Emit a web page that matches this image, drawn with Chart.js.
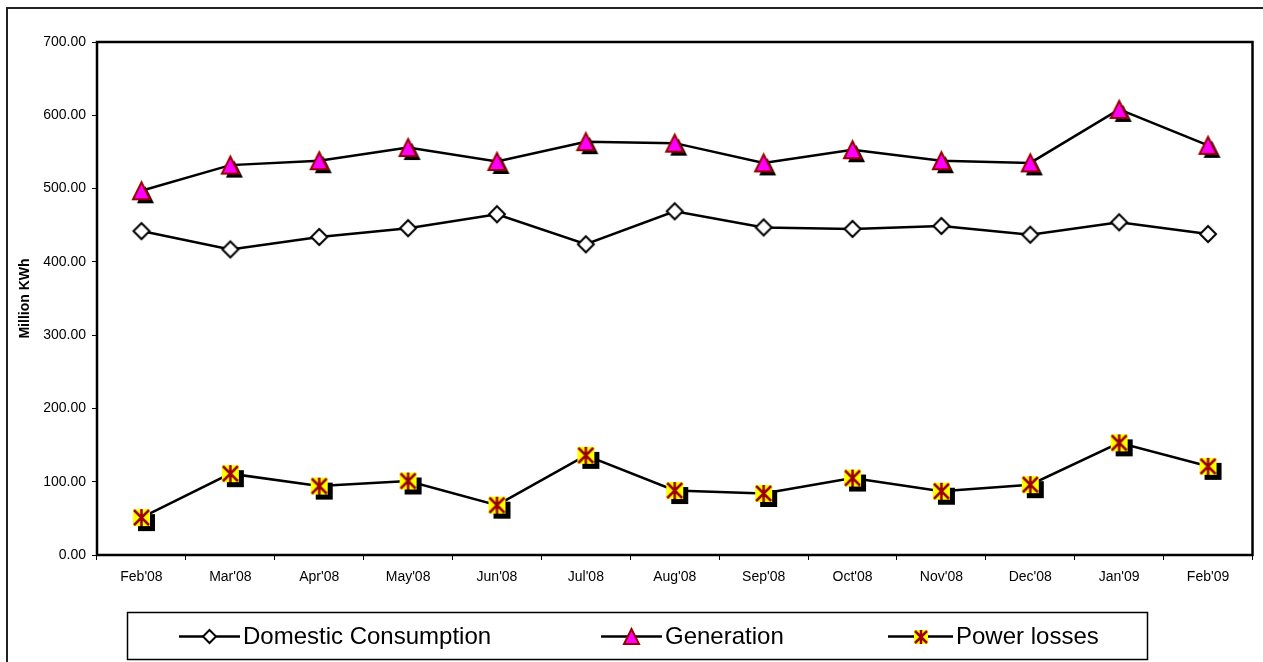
<!DOCTYPE html>
<html><head><meta charset="utf-8">
<script src="https://cdn.jsdelivr.net/npm/chart.js@4.4.1/dist/chart.umd.min.js"></script>
<style>html,body{margin:0;padding:0;background:#fff}#wrap{width:1263px;height:662px;position:relative}</style>
</head><body><div id="wrap"><canvas id="c" width="1263" height="662"></canvas></div>
<script>
const categories = ["Feb'08","Mar'08","Apr'08","May'08","Jun'08","Jul'08","Aug'08","Sep'08","Oct'08","Nov'08","Dec'08","Jan'09","Feb'09"];
const domestic = [442, 417, 434, 446, 465, 424, 469, 447, 445, 449, 437, 454, 438];
const generation = [497, 532, 538, 556, 537, 564, 562, 535, 553, 538, 535, 608, 559];
const losses = [51, 111, 94, 101, 68, 136, 88, 84, 105, 87, 96, 153, 121];
const yTicks = [0, 100, 200, 300, 400, 500, 600, 700];
const seriesNames = ["Domestic Consumption", "Generation", "Power losses"];

const FONT = "'Liberation Sans', Arial, sans-serif";

function mk(size){const c=document.createElement('canvas');c.width=size;c.height=size;return c;}
function diamond(s){
  const size=s+6, c=mk(size), g=c.getContext('2d'), m=size/2, r=s/2;
  g.beginPath();g.moveTo(m,m-r);g.lineTo(m+r,m);g.lineTo(m,m+r);g.lineTo(m-r,m);g.closePath();
  g.fillStyle='#fff';g.fill();g.lineWidth=2;g.strokeStyle='#000';g.stroke();return c;
}
function triangle(s,sh){
  const size=s+2*sh+6, c=mk(size), g=c.getContext('2d'), m=size/2, r=s/2;
  function path(dx,dy){g.beginPath();g.moveTo(m+dx,m-r+dy);g.lineTo(m+r+dx,m+r+dy);g.lineTo(m-r+dx,m+r+dy);g.closePath();}
  if(sh){path(sh,sh);g.fillStyle='#000';g.fill();}
  path(0,0);g.fillStyle='#ff00ff';g.fill();g.lineWidth=2;g.strokeStyle='#990000';g.lineJoin='miter';g.stroke();return c;
}
function star(s,sh){
  const size=s+2*sh+6, c=mk(size), g=c.getContext('2d'), m=size/2, r=s/2;
  if(sh){g.fillStyle='#000';g.fillRect(m-r+sh,m-r+sh,s,s);}
  g.fillStyle='#ffff00';g.fillRect(m-r,m-r,s,s);
  g.strokeStyle='#990000';g.lineWidth=2.5;g.beginPath();
  g.moveTo(m-r+1,m-r+1);g.lineTo(m+r-1,m+r-1);g.moveTo(m+r-1,m-r+1);g.lineTo(m-r+1,m+r-1);
  g.moveTo(m,m-r);g.lineTo(m,m+r);g.stroke();return c;
}
const mDom=diamond(16), mGen=triangle(17,4), mLoss=star(17,5);
const lDom=diamond(13), lGen=triangle(15,0), lLoss=star(14,0);

const frame={id:'frame',
  beforeDraw(ch){const g=ch.ctx;g.save();g.fillStyle='#fff';g.fillRect(0,0,ch.width,ch.height);
    g.strokeStyle='#222';g.lineWidth=2;g.beginPath();g.moveTo(7,662);g.lineTo(7,8);g.lineTo(1263,8);g.stroke();g.restore();},
  afterDraw(ch){const g=ch.ctx,a=ch.chartArea;g.save();
    g.strokeStyle='#000';g.lineWidth=2.5;g.strokeRect(a.left,a.top,a.right-a.left,a.bottom-a.top);
    // legend
    g.lineWidth=1.5;g.strokeStyle='#000';g.strokeRect(127.5,612.5,1020,47);
    const y=636.5, items=[[179,240,lDom,seriesNames[0]],[601,662,lGen,seriesNames[1]],[888,953,lLoss,seriesNames[2]]];
    g.font='24px '+FONT;g.fillStyle='#000';g.textBaseline='middle';
    for(const [x1,x2,img,t] of items){
      g.lineWidth=2.5;g.beginPath();g.moveTo(x1,y);g.lineTo(x2,y);g.stroke();
      const cx=(x1+x2)/2;g.drawImage(img,Math.round(cx-img.width/2),Math.round(y-img.height/2));
      g.fillText(t,x2+3,y+1);
    }
    g.restore();}
};

const ds=(label,data,img)=>({label,data,borderColor:'#000',borderWidth:2.5,tension:0,pointStyle:img,pointRadius:8,fill:false});

new Chart(document.getElementById('c'),{
  type:'line',
  data:{labels:categories,datasets:[ds(seriesNames[0],domestic,mDom),ds(seriesNames[1],generation,mGen),ds(seriesNames[2],losses,mLoss)]},
  options:{responsive:false,animation:false,devicePixelRatio:1,
    layout:{padding:{top:42,right:8,left:0,bottom:0}},
    plugins:{legend:{display:false},tooltip:{enabled:false}},
    scales:{
      x:{type:'category',offset:true,border:{display:false},
        grid:{offset:true,drawOnChartArea:false,drawTicks:true,tickLength:5,color:'#000'},
        ticks:{color:'#000',font:{family:FONT,size:14},padding:9,maxRotation:0,autoSkip:false},
        afterFit(s){s.height=107;}},
      y:{min:0,max:700,border:{display:false},
        afterBuildTicks(s){s.ticks=yTicks.map(v=>({value:v}));},
        grid:{drawOnChartArea:false,drawTicks:true,tickLength:5,color:'#000'},
        ticks:{color:'#000',font:{family:FONT,size:14},padding:6,callback:v=>Number(v).toFixed(2)},
        title:{display:true,text:'Million KWh',color:'#000',font:{family:FONT,size:14,weight:'bold'},padding:{top:17,bottom:0}},
        afterFit(s){s.width=97;}}
    }},
  plugins:[frame]
});
</script></body></html>
